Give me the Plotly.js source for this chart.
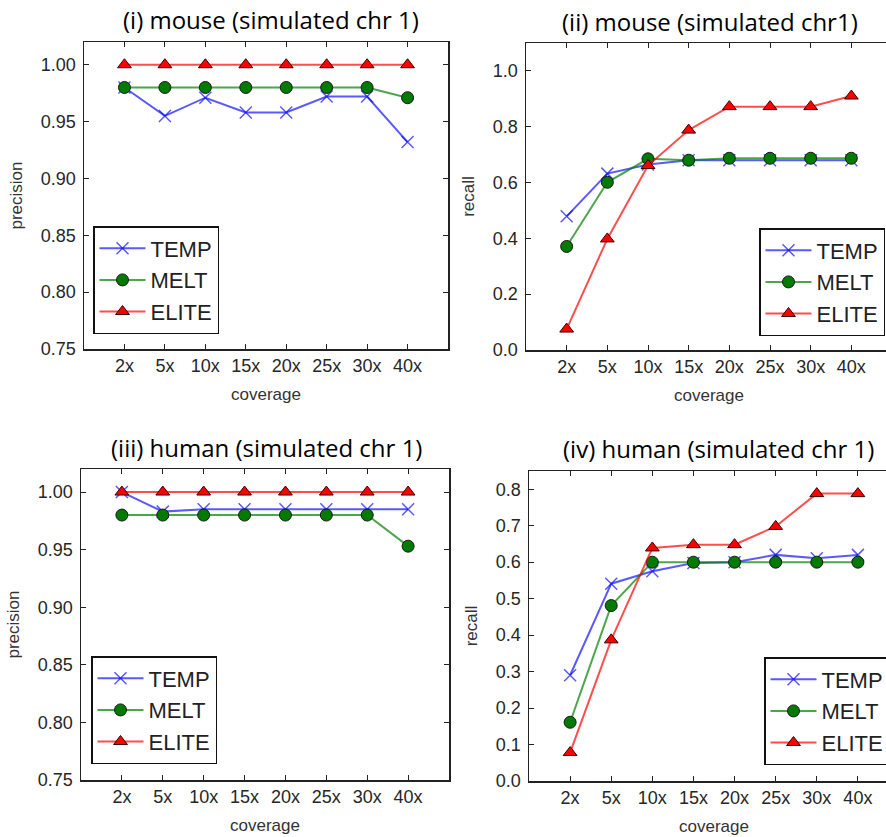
<!DOCTYPE html>
<html>
<head>
<meta charset="utf-8">
<script src="https://cdn.plot.ly/plotly-3.0.1.min.js"></script>
<style>html,body{margin:0;padding:0;overflow:hidden;background:#fff;}#chart{width:905px;height:837px;}</style>
</head>
<body>
<div id="chart"></div>
<script>
const coverage = ["2x","5x","10x","15x","20x","25x","30x","40x"];
const seriesNames = ["TEMP","MELT","ELITE"];

// (i) mouse precision
const mousePrecTEMP  = [0.980, 0.955, 0.971, 0.958, 0.958, 0.972, 0.972, 0.932];
const mousePrecMELT  = [0.980, 0.980, 0.980, 0.980, 0.980, 0.980, 0.980, 0.971];
const mousePrecELITE = [1.000, 1.000, 1.000, 1.000, 1.000, 1.000, 1.000, 1.000];
// (ii) mouse recall
const mouseRecTEMP  = [0.479, 0.632, 0.665, 0.680, 0.680, 0.680, 0.680, 0.680];
const mouseRecMELT  = [0.371, 0.601, 0.685, 0.680, 0.687, 0.687, 0.687, 0.687];
const mouseRecELITE = [0.075, 0.398, 0.661, 0.788, 0.872, 0.872, 0.872, 0.910];
// (iii) human precision
const humanPrecTEMP  = [1.000, 0.983, 0.985, 0.985, 0.985, 0.985, 0.985, 0.985];
const humanPrecMELT  = [0.980, 0.980, 0.980, 0.980, 0.980, 0.980, 0.980, 0.953];
const humanPrecELITE = [1.000, 1.000, 1.000, 1.000, 1.000, 1.000, 1.000, 1.000];
// (iv) human recall
const humanRecTEMP  = [0.290, 0.541, 0.575, 0.598, 0.600, 0.620, 0.611, 0.620];
const humanRecMELT  = [0.161, 0.481, 0.600, 0.600, 0.600, 0.600, 0.600, 0.600];
const humanRecELITE = [0.078, 0.387, 0.639, 0.648, 0.648, 0.698, 0.788, 0.788];

const panelTitles = ["(i) mouse (simulated chr 1)", "(ii) mouse (simulated chr1)",
                     "(iii) human (simulated chr 1)", "(iv) human (simulated chr 1)"];

const W = 905, H = 837;
const styles = [
  {line:{color:'rgba(0,0,255,0.65)', width:2}, marker:{symbol:'x-thin', size:12, color:'rgba(0,0,255,0.65)', line:{color:'rgba(0,0,255,0.65)', width:1.5}}},
  {line:{color:'rgba(0,128,0,0.7)', width:2}, marker:{symbol:'circle', size:12, color:'#007a00', line:{color:'#1a1a1a', width:1}}},
  {line:{color:'rgba(255,0,0,0.7)', width:2}, marker:{symbol:'triangle-up', size:12, color:'#ff0000', line:{color:'#3a0000', width:1}}}
];

const panels = [
  [mousePrecTEMP, mousePrecMELT, mousePrecELITE],
  [mouseRecTEMP, mouseRecMELT, mouseRecELITE],
  [humanPrecTEMP, humanPrecMELT, humanPrecELITE],
  [humanRecTEMP, humanRecMELT, humanRecELITE]
];

const traces = [];
panels.forEach((p, pi) => {
  p.forEach((vals, si) => {
    traces.push({
      type:'scatter', mode:'lines+markers',
      x: coverage, y: vals, name: seriesNames[si],
      xaxis: pi === 0 ? 'x' : 'x' + (pi+1),
      yaxis: pi === 0 ? 'y' : 'y' + (pi+1),
      legend: pi === 0 ? 'legend' : 'legend' + (pi+1),
      line: styles[si].line, marker: styles[si].marker,
      cliponaxis: false
    });
  });
});

const px = v => v / W;
const py = v => 1 - v / H;

const xDomains = [[84,448],[526,892],[81,449],[529,899]];
const yDomains = [[42,349],[43,350],[469,780],[471,781]];
const yRanges = [[0.75,1.02],[0,1.1],[0.75,1.02],[0,0.85]];
const yDticks = [0.05, 0.2, 0.05, 0.1];
const yFormats = ['.2f','.1f','.2f','.1f'];
const yTitles = ['precision','recall','precision','recall'];
const legendPos = [[93,226],[759,228],[91,656],[764,657]];
const titlePos = [[271,20],[710,22],[266,447],[718,448]];

const tickFont = {family:'Liberation Sans, Arial, sans-serif', size:18, color:'#262626'};
const labelFont = {family:'Liberation Sans, Arial, sans-serif', size:17, color:'#333'};

const layout = {
  width: W, height: H,
  margin:{l:0,r:0,t:0,b:0},
  paper_bgcolor:'#fff', plot_bgcolor:'#fff',
  showlegend:true,
  annotations: [],
  font:{family:'Liberation Sans, Arial, sans-serif'}
};

for (let i = 0; i < 4; i++) {
  const s = i === 0 ? '' : String(i+1);
  layout['xaxis'+s] = {
    domain:[px(xDomains[i][0]), px(xDomains[i][1])],
    anchor: 'y'+s, type:'category', range:[-1, 8],
    showline:true, mirror:'ticks', linecolor:'#222', linewidth:1.5,
    ticks:'inside', ticklen:5, tickwidth:1, tickcolor:'#222',
    showgrid:false, zeroline:false, tickfont: tickFont,
    title:{text:'coverage', font: labelFont, standoff: 13},
    fixedrange:true
  };
  layout['yaxis'+s] = {
    domain:[py(yDomains[i][1]), py(yDomains[i][0])],
    anchor: 'x'+s, range: yRanges[i], dtick: yDticks[i], tick0: 0, tickformat: yFormats[i],
    showline:true, mirror:'ticks', linecolor:'#222', linewidth:1.5,
    ticks:'inside', ticklen:5, tickwidth:1, tickcolor:'#222',
    showgrid:false, zeroline:false, tickfont: tickFont, ticklabelstandoff: 3,
    title:{text: yTitles[i], font: labelFont, standoff: 14},
    fixedrange:true
  };
  layout[i === 0 ? 'legend' : 'legend'+(i+1)] = {
    x: px(legendPos[i][0]), y: py(legendPos[i][1]), xanchor:'left', yanchor:'top',
    bgcolor:'#fff', bordercolor:'#111', borderwidth:1.5,
    font:{family:'Liberation Sans, Arial, sans-serif', size:22, color:'#222'},
    itemwidth:46, itemclick:false, itemdoubleclick:false
  };
  layout.annotations.push({
    text: panelTitles[i], xref:'paper', yref:'paper',
    x: px(titlePos[i][0]), y: py(titlePos[i][1]), xanchor:'center', yanchor:'middle',
    showarrow:false, font:{family:'Open Sans, sans-serif', size:24, color:'#000'}
  });
}

Plotly.newPlot('chart', traces, layout, {displayModeBar:false, staticPlot:true});
</script>
</body>
</html>
